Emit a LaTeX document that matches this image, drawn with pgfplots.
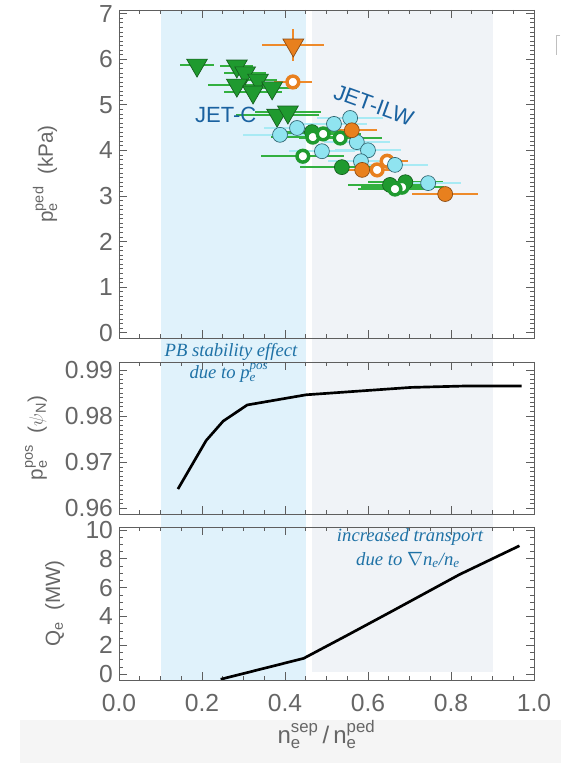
\documentclass[border=0pt]{standalone}
\usepackage{amsmath}
\usepackage{fontspec}
\setmainfont{Liberation Sans}
\newfontfamily\annfont{Liberation Serif}
\usepackage{pgfplots}
\pgfplotsset{compat=1.18}

\definecolor{axgray}{HTML}{5E5E5E}
\definecolor{txtgray}{HTML}{666666}
\definecolor{shblue}{HTML}{E0F2FB}
\definecolor{shgray}{HTML}{F0F3F7}
\definecolor{annblue}{HTML}{1F72A6}
\definecolor{jetblue}{HTML}{1A62A0}
\definecolor{gfill}{HTML}{1F9A2F}
\definecolor{gdraw}{HTML}{155E1E}
\definecolor{gbar}{HTML}{33B040}
\definecolor{cfill}{HTML}{90E4F0}
\definecolor{cdraw}{HTML}{2F6470}
\definecolor{cbar}{HTML}{A8EAF4}
\definecolor{ofill}{HTML}{E8801E}
\definecolor{odraw}{HTML}{8A4A12}
\definecolor{obar}{HTML}{EE8A2A}

\pgfplotsset{
  myax/.style={
    scale only axis, width=311.25pt, xmin=0, xmax=1,
    anchor=south west,
    axis line style={axgray, line width=0.6pt},
    tick style={axgray, line width=0.5pt},
    tick align=inside,
    xtick={0,0.2,0.4,0.6,0.8,1.0}, minor x tick num=3,
    major tick length=6pt, minor tick length=3pt,
    tick label style={font=\fontsize{18.5}{20}\selectfont, text=txtgray},
    /pgf/number format/assume math mode=true,
    scaled y ticks=false,
    yticklabel style={xshift=-1pt},
  },
  ylab/.style={every axis y label/.style={at={(axis description cs:#1,0.5)}, rotate=90, anchor=center,
    font=\fontsize{15.5}{17}\selectfont, text=txtgray}},
  gtri/.style={only marks, mark=triangle*, mark size=9pt,
    mark options={rotate=180, fill=gfill, draw=gdraw, line width=0.5pt},
    error bars/.cd, x dir=both, x explicit, y dir=both, y explicit,
    error mark=none, error bar style={gbar, line width=1.5pt}},
}

\pgfplotstableread{
x y ex ey
0.188 5.87 0.040 0
0.284 5.85 0.040 0
0.304 5.70 0.050 0
0.335 5.54 0.045 0
0.284 5.43 0.070 0
0.323 5.28 0.070 0
0.369 5.37 0.060 0
0.381 4.77 0.100 0
0.407 4.84 0.080 0
}\greentri

\pgfplotstableread{
x y ex ey
0.420 6.31 0.075 0.35
}\orangetri

\pgfplotstableread{
x y ex ey
0.537 3.63 0.10 0
0.465 4.40 0.09 0
0.653 3.24 0.10 0
0.690 3.30 0.09 0
}\greenfill

\pgfplotstableread{
x y ex ey
0.467 4.29 0.10 0
0.492 4.36 0.09 0
0.533 4.27 0.10 0
0.443 3.87 0.10 0
0.682 3.19 0.10 0
0.665 3.15 0.09 0
}\greenring

\pgfplotstableread{
x y ex ey
0.388 4.34 0.09 0
0.429 4.49 0.08 0
0.518 4.58 0.08 0
0.557 4.71 0.08 0
0.489 3.98 0.08 0
0.573 4.18 0.08 0
0.600 4.00 0.08 0
0.583 3.76 0.08 0
0.665 3.68 0.08 0
0.745 3.28 0.08 0
}\cyanpts

\pgfplotstableread{
x y ex ey
0.561 4.44 0.06 0
0.586 3.57 0.05 0
0.786 3.04 0.08 0
}\orangefill

\pgfplotstableread{
x y ex ey
0.419 5.50 0.045 0.12
0.646 3.76 0.05 0
0.622 3.57 0.05 0
}\orangering

\begin{document}
\begin{tikzpicture}
\useasboundingbox (0,0) rectangle (420.75pt,572.25pt);
% slide background band and shaded regions
\fill[black!4] (15pt,0) rectangle (420.75pt,32pt);
\fill[shblue] (120.4pt,62.25pt) rectangle (229.3pt,564.75pt);
\fill[shgray] (234pt,68.25pt) rectangle (369.4pt,564.75pt);
\draw[black!25, line width=0.6pt] (420pt,546pt) -- (417pt,546pt) -- (417pt,531pt);

% ---------- top panel ----------
\begin{axis}[myax, at={(89.25pt,318.75pt)}, height=246pt,
  ymin=-0.12, ymax=7.08, ytick={0,1,...,7}, minor y tick num=9,
  xticklabels={},
  ylabel={p$_\text{e}^\text{ped}$\ \ (kPa)}, ylab=-0.178,
]
\addplot[gtri] table[x=x,y=y,x error=ex,y error=ey] {\greentri};
\addplot[only marks, mark=*, mark size=5.6pt,
  mark options={fill=gfill, draw=gdraw, line width=0.5pt},
  error bars/.cd, x dir=both, x explicit, error mark=none,
  error bar style={gbar, line width=1.5pt}] table[x=x,y=y,x error=ex] {\greenfill};
\addplot[only marks, mark=*, mark size=4.4pt,
  mark options={fill=white, draw=gfill, line width=2.6pt},
  error bars/.cd, x dir=both, x explicit, error mark=none,
  error bar style={gbar, line width=1.5pt}] table[x=x,y=y,x error=ex] {\greenring};
\addplot[only marks, mark=*, mark size=4.4pt,
  mark options={fill=white, draw=ofill, line width=2.6pt},
  error bars/.cd, x dir=both, x explicit, y dir=both, y explicit, error mark=none,
  error bar style={obar, line width=1.5pt}] table[x=x,y=y,x error=ex,y error=ey] {\orangering};
\addplot[only marks, mark=*, mark size=5.6pt,
  mark options={fill=cfill, draw=cdraw, line width=0.5pt},
  error bars/.cd, x dir=both, x explicit, error mark=none,
  error bar style={cbar, line width=1.5pt}] table[x=x,y=y,x error=ex] {\cyanpts};
\addplot[only marks, mark=*, mark size=5.6pt,
  mark options={fill=ofill, draw=odraw, line width=0.5pt},
  error bars/.cd, x dir=both, x explicit, error mark=none,
  error bar style={obar, line width=1.5pt}] table[x=x,y=y,x error=ex] {\orangefill};
\addplot[only marks, mark=triangle*, mark size=9pt,
  mark options={rotate=180, fill=ofill, draw=odraw, line width=0.5pt},
  error bars/.cd, x dir=both, x explicit, y dir=both, y explicit,
  error mark=none, error bar style={obar, line width=1.5pt}]
  table[x=x,y=y,x error=ex,y error=ey] {\orangetri};
\node[text=jetblue, font=\fontsize{16.5}{18}\selectfont] at (axis cs:0.257,4.77) {JET-C};
\node[text=jetblue, font=\fontsize{16.5}{18}\selectfont, rotate=-20] at (axis cs:0.614,4.99) {JET-ILW};
\end{axis}

% ---------- middle panel ----------
\begin{axis}[myax, at={(89.25pt,186.75pt)}, height=114pt,
  ymin=0.9588, ymax=0.9917, ytick={0.96,0.97,0.98,0.99}, minor y tick num=9,
  yticklabel style={/pgf/number format/fixed, /pgf/number format/fixed zerofill, /pgf/number format/precision=2},
  xticklabels={},
  ylabel={p$_\text{e}^\text{pos}$\ \ ($\psi_\text{N}$)}, ylab=-0.2,
]
\addplot[black, line width=2pt] coordinates {
(0.142,0.9642) (0.210,0.9747) (0.251,0.9789) (0.309,0.9824) (0.451,0.9846)
(0.704,0.9862) (0.833,0.9865) (0.970,0.9865)};
\end{axis}

% ---------- bottom panel ----------
\begin{axis}[myax, at={(89.25pt,62.25pt)}, height=114.75pt,
  ymin=-0.4, ymax=10.2, ytick={0,2,...,10}, minor y tick num=3,
  xticklabel style={/pgf/number format/fixed, /pgf/number format/fixed zerofill, /pgf/number format/precision=1, yshift=-7pt},
  ylabel={Q$_\text{e}$\ \ (MW)}, ylab=-0.155,
  xlabel={n$_\text{e}^\text{sep}$\,/\,n$_\text{e}^\text{ped}$},
  every axis x label/.style={at={(axis description cs:0.5,-0.355)}, anchor=center,
    font=\fontsize{18}{20}\selectfont, text=txtgray},
]
\addplot[black, line width=2pt] coordinates {
(0.245,-0.35) (0.445,1.1) (0.55,2.7) (0.66,4.4) (0.82,6.9) (0.965,8.9)};
\end{axis}

% annotations
\node[text=annblue, font=\annfont\itshape\fontsize{14}{16}\selectfont] at (173.25pt,308.25pt) {PB stability effect};
\node[text=annblue, font=\annfont\itshape\fontsize{14}{16}\selectfont] at (171.75pt,292.5pt) {due to p$_\text{e}^\text{pos}$};
\node[text=annblue, font=\annfont\itshape\fontsize{14}{16}\selectfont] at (307.5pt,169.5pt) {increased transport};
\node[text=annblue, font=\annfont\itshape\fontsize{14}{16}\selectfont] at (306pt,152.25pt) {due to $\nabla$n$_\text{e}$/n$_\text{e}$};
\end{tikzpicture}
\end{document}
